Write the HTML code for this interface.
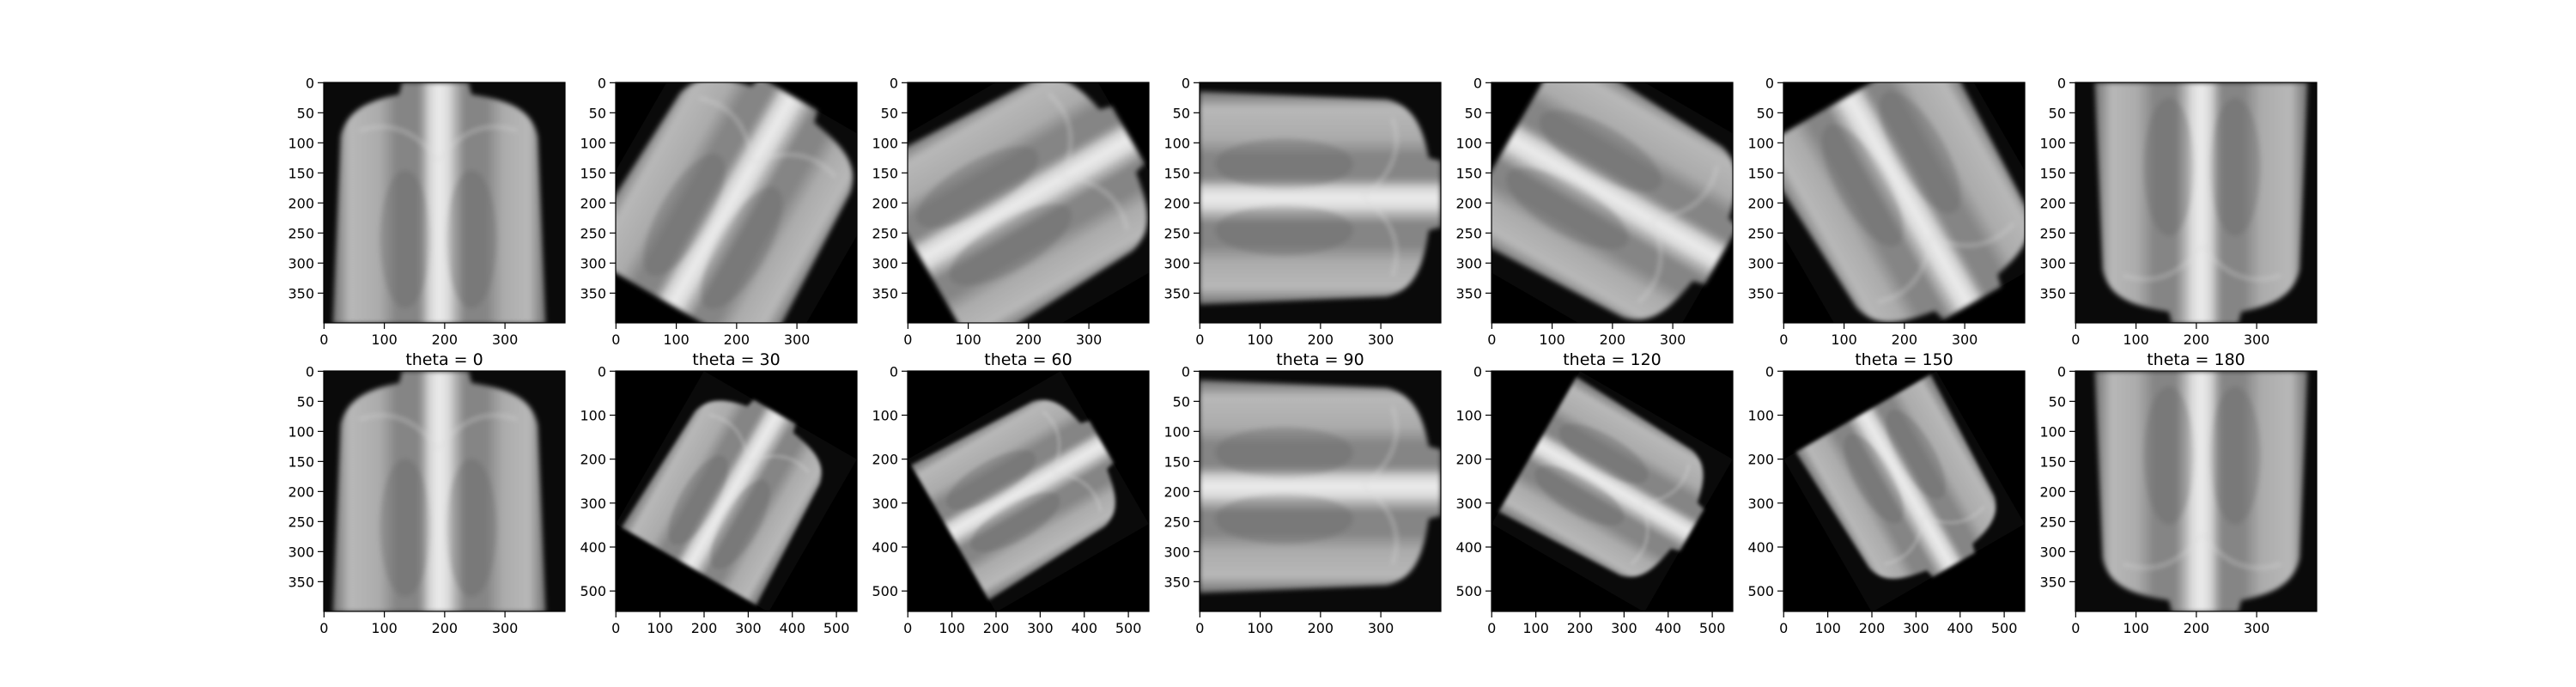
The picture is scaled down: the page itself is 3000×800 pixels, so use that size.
<!DOCTYPE html>
<html><head><meta charset="utf-8"><style>
html,body{margin:0;padding:0;background:#fff;}
svg{display:block;font-family:"DejaVu Sans","Liberation Sans",sans-serif;}
</style></head><body>
<svg id="fig" width="3000" height="800" viewBox="0 0 3000 800">
<defs>
<filter id="soft" x="-5%" y="-5%" width="110%" height="110%"><feGaussianBlur stdDeviation="4"/></filter>
<linearGradient id="bodyGrad" x1="0" y1="0" x2="1" y2="0">
<stop offset="0" stop-color="#707070"/><stop offset="0.08" stop-color="#b8b8b8"/>
<stop offset="0.22" stop-color="#ababab"/><stop offset="0.3" stop-color="#858585"/>
<stop offset="0.4" stop-color="#858585"/><stop offset="0.47" stop-color="#d8d8d8"/>
<stop offset="0.5" stop-color="#eeeeee"/><stop offset="0.55" stop-color="#cfcfcf"/>
<stop offset="0.62" stop-color="#858585"/><stop offset="0.72" stop-color="#858585"/>
<stop offset="0.8" stop-color="#ababab"/><stop offset="0.92" stop-color="#b8b8b8"/>
<stop offset="1" stop-color="#707070"/>
</linearGradient>
<g id="chest">
<rect x="0" y="0" width="400" height="400" fill="#0a0a0a"/>
<g filter="url(#soft)">
<path d="M130,0 L240,0 L245,20 C310,30 345,45 355,90 L368,400 L15,400 L28,90 C38,45 75,30 125,20 Z" fill="url(#bodyGrad)"/>
<ellipse cx="135" cy="260" rx="42" ry="115" fill="#606060" opacity="0.3"/>
<ellipse cx="245" cy="260" rx="42" ry="115" fill="#606060" opacity="0.3"/>
<rect x="170" y="0" width="40" height="400" fill="#e8e8e8" opacity="0.35"/>
<path d="M60,80 C120,60 160,90 190,130 M320,80 C260,60 220,90 190,130" stroke="#ddd" stroke-width="5" fill="none" opacity="0.4"/>
</g>
</g>
</defs>
<g id="panels"></g>
</svg>
<script>
const thetas=[0,30,60,90,120,150,180];
const topSizes=[400,400,400,400,400,400,400];
const botSizes=[400,547,547,400,547,547,400];
const NS="http://www.w3.org/2000/svg";
const root=document.getElementById('panels');
function mk(t,a,p){const e=document.createElementNS(NS,t);for(const k in a)e.setAttribute(k,a[k]);(p||root).appendChild(e);return e;}
let clipId=0;
function panel(col,row,th,N){
  const L=377+col*340, T=row===0?96:432, W=281, H=280;
  const g=mk('g',{});
  
  
  const sx=v=>L+(v+0.5)*W/N, sy=v=>T+(v+0.5)*H/N;
  const cid='c'+(clipId++);
  const cp=mk('clipPath',{id:cid},g);mk('rect',{x:L,y:T,width:W,height:H},cp);
  const ig=mk('g',{'clip-path':'url(#'+cid+')'},g);
  mk('rect',{x:L,y:T,width:W,height:H,fill:'#000'},ig);
  const k=W/N, c=N/2;
  const u=mk('use',{href:'#chest',transform:`translate(${L},${T}) scale(${k}) translate(${c},${c}) rotate(${th}) translate(-200,-200)`},ig);
  
  
  const fr=mk('rect',{x:L,y:T,width:W,height:H,fill:'none',stroke:'#000','stroke-width':1.2},g);
  
  
  const step=N>400?100:50;
  for(let v=0;v<N;v+=step){const y=sy(v);
    mk('line',{x1:L,x2:L-7,y1:y,y2:y,stroke:'#000','stroke-width':1.2},g);
    const t=mk('text',{x:L-11,y:y+6,'text-anchor':'end','font-size':16,fill:'#000'},g);t.textContent=v;
    
    }
  for(let v=0;v<N;v+=100){const x=sx(v);
    mk('line',{x1:x,x2:x,y1:T+H,y2:T+H+7,stroke:'#000','stroke-width':1.2},g);
    const t=mk('text',{x:x,y:T+H+25,'text-anchor':'middle','font-size':16,fill:'#000'},g);t.textContent=v;
    
    }
  if(row===1){const t=mk('text',{x:L+W/2,y:425,'text-anchor':'middle','font-size':19,fill:'#000'},g);
    t.textContent='theta = '+th;
    
    }
}
thetas.forEach((th,i)=>{panel(i,0,th,topSizes[i]);panel(i,1,th,botSizes[i]);});
</script>
</body></html>
